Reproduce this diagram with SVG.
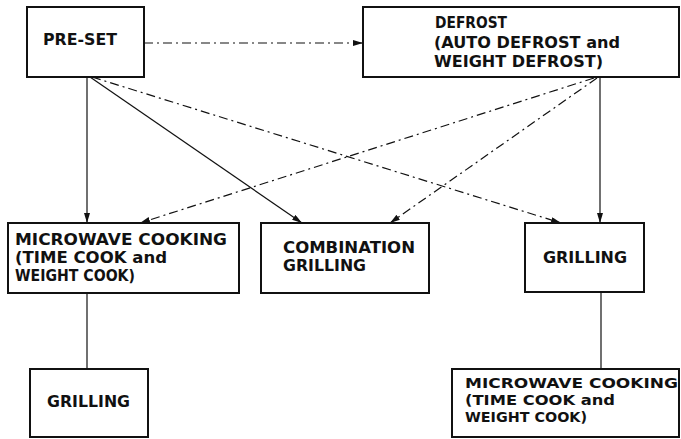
<svg xmlns="http://www.w3.org/2000/svg" width="681" height="439" viewBox="0 0 681 439">
<style>
.box{fill:#fff;stroke:#111;stroke-width:2}
.t{font-family:"DejaVu Sans","Liberation Sans",Arial,sans-serif;font-weight:bold;font-size:15.5px;fill:#111}
.s{font-size:14px}
.ln{fill:none;stroke:#111;stroke-width:1.2}
.dd{stroke-dasharray:9 4 2 4}
</style>
<defs>
<marker id="ah" viewBox="0 0 10 6" refX="10" refY="3" markerWidth="10" markerHeight="6" markerUnits="userSpaceOnUse" orient="auto">
<path d="M0,0 L10,3 L0,6 Z" fill="#111"/>
</marker>
</defs>
<rect width="681" height="439" fill="#fff"/>
<g id="connectors">
<line class="ln dd" x1="144" y1="43" x2="363" y2="43" marker-end="url(#ah)"/>
<line class="ln" x1="87" y1="77" x2="87" y2="223" marker-end="url(#ah)"/>
<line class="ln" x1="90" y1="77" x2="302" y2="223" marker-end="url(#ah)"/>
<line class="ln dd" x1="92" y1="77" x2="561" y2="223" marker-end="url(#ah)"/>
<line class="ln dd" x1="594" y1="78" x2="140" y2="223" marker-end="url(#ah)"/>
<line class="ln dd" x1="597" y1="78" x2="390" y2="223" marker-end="url(#ah)"/>
<line class="ln" x1="600" y1="77" x2="600" y2="223" marker-end="url(#ah)"/>
<line class="ln" x1="87" y1="293" x2="87" y2="369"/>
<line class="ln" x1="601" y1="292" x2="601" y2="369"/>
</g>
<g id="preset">
<rect class="box" x="27" y="7" width="117" height="70"/>
<text class="t" x="43" y="45" textLength="74" lengthAdjust="spacingAndGlyphs">PRE-SET</text>
</g>
<g id="defrost">
<rect class="box" x="363" y="7" width="316" height="70"/>
<text class="t" x="435" y="28" textLength="72" lengthAdjust="spacingAndGlyphs">DEFROST</text>
<text class="t" x="434" y="48" textLength="186" lengthAdjust="spacingAndGlyphs">(AUTO DEFROST and</text>
<text class="t" x="434" y="67" textLength="169" lengthAdjust="spacingAndGlyphs">WEIGHT DEFROST)</text>
</g>
<g id="microwave1">
<rect class="box" x="8" y="223" width="231" height="70"/>
<text class="t" x="15" y="245" textLength="212" lengthAdjust="spacingAndGlyphs">MICROWAVE COOKING</text>
<text class="t" x="15" y="263" textLength="152" lengthAdjust="spacingAndGlyphs">(TIME COOK and</text>
<text class="t" x="15" y="281" textLength="120" lengthAdjust="spacingAndGlyphs">WEIGHT COOK)</text>
</g>
<g id="combination">
<rect class="box" x="261" y="223" width="168" height="70"/>
<text class="t" x="283" y="253" textLength="132" lengthAdjust="spacingAndGlyphs">COMBINATION</text>
<text class="t" x="283" y="271" textLength="83" lengthAdjust="spacingAndGlyphs">GRILLING</text>
</g>
<g id="grilling1">
<rect class="box" x="525" y="223" width="119" height="69"/>
<text class="t" x="543" y="263" textLength="84" lengthAdjust="spacingAndGlyphs">GRILLING</text>
</g>
<g id="grilling2">
<rect class="box" x="30" y="369" width="118" height="68"/>
<text class="t" x="47" y="407" textLength="83" lengthAdjust="spacingAndGlyphs">GRILLING</text>
</g>
<g id="microwave2">
<rect class="box" x="452" y="369" width="227" height="68"/>
<text class="t s" x="465" y="388" textLength="213" lengthAdjust="spacingAndGlyphs">MICROWAVE COOKING</text>
<text class="t s" x="465" y="405" textLength="150" lengthAdjust="spacingAndGlyphs">(TIME COOK and</text>
<text class="t s" x="465" y="422" textLength="122" lengthAdjust="spacingAndGlyphs">WEIGHT COOK)</text>
</g>
</svg>
